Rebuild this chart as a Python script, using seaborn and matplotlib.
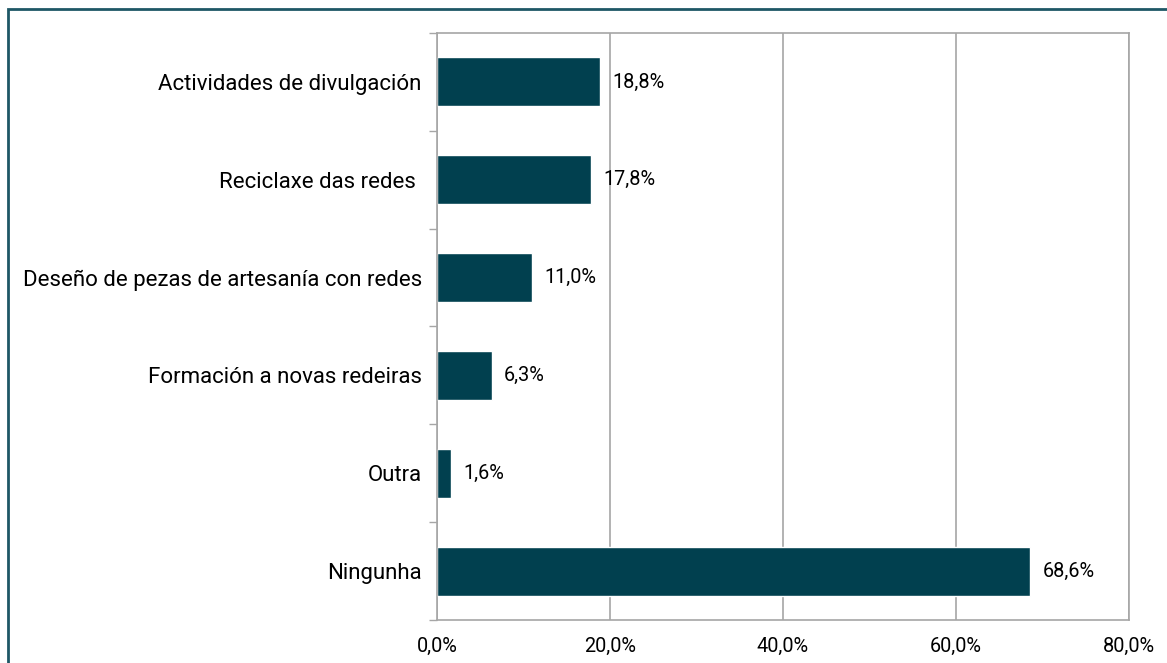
import numpy as np
import matplotlib
matplotlib.use("Agg")
import matplotlib.pyplot as plt
from matplotlib.ticker import FuncFormatter, FixedLocator
from matplotlib.patches import Rectangle
import seaborn as sns
import pandas as pd

# --------------------------
# Data
# --------------------------
categories = [
    "Actividades de divulgación",
    "Reciclaxe das redes ",
    "Deseño de pezas de artesanía con redes",
    "Formación a novas redeiras",
    "Outra",
    "Ningunha",
]
values = [18.8, 17.8, 11.0, 6.3, 1.6, 68.6]
x_ticks = [0, 20, 40, 60, 80]

df = pd.DataFrame({"Categoria": categories, "Valor": values})

# --------------------------
# Style
# --------------------------
sns.set_theme(style="white")
plt.rcParams["font.family"] = ["Roboto", "DejaVu Sans"]

bar_color = "#01404f"
grid_color = "#a6a6a6"
frame_color = "#1e5766"

fig = plt.figure(figsize=(11.67, 6.63), dpi=100)
ax = fig.add_axes([0.3745, 0.0649, 0.5929, 0.8853])

sns.barplot(data=df, x="Valor", y="Categoria", orient="h", color=bar_color,
            width=0.5, saturation=1, ax=ax)

ax.set_xlim(0, 80)
ax.set_ylim(len(categories) - 0.5, -0.5)
ax.xaxis.set_major_locator(FixedLocator(x_ticks))
ax.xaxis.set_major_formatter(FuncFormatter(lambda v, p: f"{v:.1f}%".replace(".", ",")))
ax.grid(axis="x", color=grid_color, linewidth=1.2)
ax.set_axisbelow(True)
ax.set_xlabel("")
ax.set_ylabel("")

for s in ax.spines.values():
    s.set_color(grid_color)
    s.set_linewidth(1.2)

# y ticks between categories
ax.tick_params(axis="y", which="major", length=0, pad=11, labelsize=16, labelcolor="black")
ax.set_yticks(np.arange(-0.5, len(categories), 1.0), minor=True)
ax.tick_params(axis="y", which="minor", length=6, width=1, color=grid_color, left=True)
ax.tick_params(axis="x", which="major", length=0, pad=12, labelsize=14.3, labelcolor="black")

# value labels
for cont in ax.containers:
    ax.bar_label(cont, labels=[f"{v:.1f}%".replace(".", ",") for v in values],
                 padding=9, fontsize=14.3, color="black")

# outer frame
fig.patches.append(Rectangle((8 / 1167, -0.1), 1.2, 1 - 9 / 663 + 0.1,
                             transform=fig.transFigure, fill=False,
                             edgecolor=frame_color, linewidth=2, zorder=10))

fig.savefig("out.png", dpi=100)
